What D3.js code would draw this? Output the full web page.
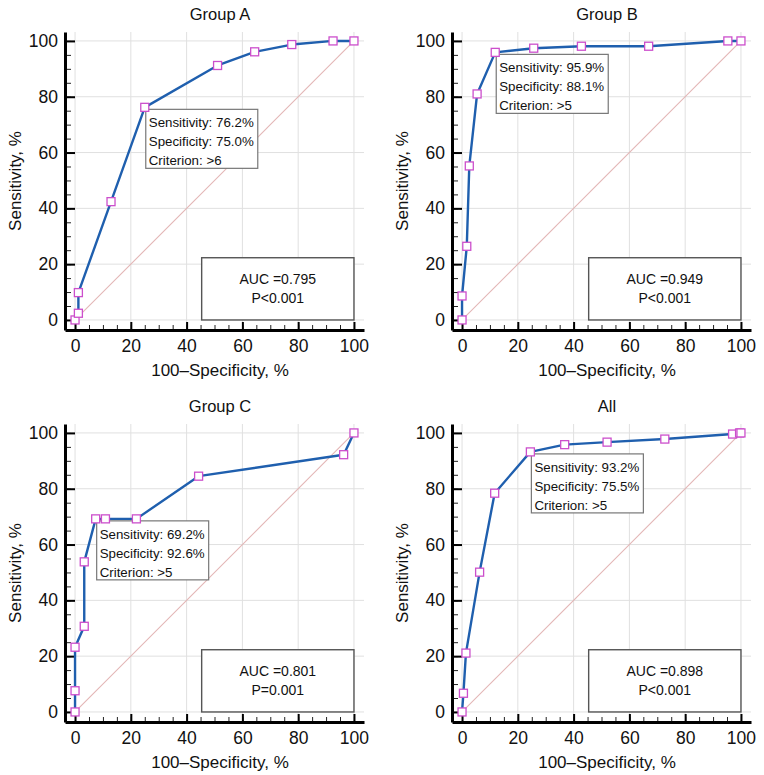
<!DOCTYPE html>
<html><head><meta charset="utf-8">
<script src="https://cdn.jsdelivr.net/npm/d3@7"></script>
<style>
body{margin:0;background:#fff}
text{font-family:"Liberation Sans",Arial,Helvetica,sans-serif;fill:#111}
</style>
</head><body>
<svg id="chart" width="764" height="775"></svg>
<script>
// ---- data ----
const panelTitles = ["Group A", "Group B", "Group C", "All"];
const groupA_fpr  = [0, 1.2, 1.2, 12.9, 25.0, 51.1, 64.4, 77.7, 92.5, 100];
const groupA_sens = [0, 2.4, 9.8, 42.4, 76.2, 91.2, 96.1, 98.7, 100, 100];
const groupB_fpr  = [0, 0, 1.7, 2.6, 5.4, 11.9, 25.7, 42.8, 66.9, 95.3, 100];
const groupB_sens = [0, 8.6, 26.4, 55.2, 81.0, 95.9, 97.4, 98.1, 98.1, 100, 100];
const groupC_fpr  = [0, 0, 0, 3.3, 3.3, 7.4, 10.9, 22.0, 44.3, 96.3, 100];
const groupC_sens = [0, 7.6, 23.2, 30.7, 53.8, 69.2, 69.2, 69.2, 84.5, 92.2, 100];
const all_fpr     = [0, 0.5, 1.4, 6.3, 11.7, 24.5, 36.8, 52.0, 72.7, 97.0, 99.5, 100];
const all_sens    = [0, 6.7, 21.1, 50.1, 78.4, 93.2, 95.8, 96.7, 97.8, 99.6, 100, 100];
const optimalIndex = [4, 5, 5, 5];
const sensitivityText = ["76.2%", "95.9%", "69.2%", "93.2%"];
const specificityText = ["75.0%", "88.1%", "92.6%", "75.5%"];
const criterionText   = [">6", ">5", ">5", ">5"];
const aucText = ["0.795", "0.949", "0.801", "0.898"];
const pText   = ["P<0.001", "P<0.001", "P=0.001", "P<0.001"];
const majorTicks = [0, 20, 40, 60, 80, 100];
const minorTicks = d3.range(0, 101, 5);

const fprs = [groupA_fpr, groupB_fpr, groupC_fpr, all_fpr];
const senss = [groupA_sens, groupB_sens, groupC_sens, all_sens];

// ---- layout ----
const offsets = [[0, 0], [387, 0], [0, 392], [387, 392]];
const svg = d3.select("#chart");
const font = '"Liberation Sans",Arial,Helvetica,sans-serif';

offsets.forEach(([ox, oy], p) => {
  const x = d3.scaleLinear().domain([-3.6, 103.6]).range([65 + ox, 364 + ox]);
  const y = d3.scaleLinear().domain([-3.6, 103.2]).range([330 + oy, 32 + oy]);
  const g = svg.append("g");

  // grid
  g.selectAll("line.vg").data(majorTicks).join("line").attr("class", "vg")
    .attr("x1", d => x(d)).attr("x2", d => x(d))
    .attr("y1", y(103.2)).attr("y2", y(-3.6))
    .attr("stroke", "#e0e0e0").attr("stroke-width", 1);
  g.selectAll("line.hg").data(majorTicks).join("line").attr("class", "hg")
    .attr("y1", d => y(d)).attr("y2", d => y(d))
    .attr("x1", x(-3.6)).attr("x2", x(103.6))
    .attr("stroke", "#e0e0e0").attr("stroke-width", 1);

  // diagonal
  g.append("line")
    .attr("x1", x(0)).attr("y1", y(0)).attr("x2", x(100)).attr("y2", y(100))
    .attr("stroke", "#e3b6b6").attr("stroke-width", 1.1);

  // axes: minor ticks
  const minorX = d3.axisBottom(x).tickValues(minorTicks).tickSizeInner(-5).tickSizeOuter(0).tickFormat("");
  const minorY = d3.axisLeft(y).tickValues(minorTicks).tickSizeInner(-6).tickSizeOuter(0).tickFormat("");
  const gx0 = g.append("g").attr("transform", `translate(0,${330 + oy})`).call(minorX);
  const gy0 = g.append("g").attr("transform", `translate(${65 + ox},0)`).call(minorY);
  [gx0, gy0].forEach(a => { a.select(".domain").remove(); a.selectAll(".tick line").attr("stroke", "#222").attr("stroke-width", 1); });

  // major ticks & labels
  const ax = d3.axisBottom(x).tickValues(majorTicks).tickSizeInner(-8).tickSizeOuter(0).tickPadding(10);
  const ay = d3.axisLeft(y).tickValues(majorTicks).tickSizeInner(-10).tickSizeOuter(0).tickPadding(7);
  const gx = g.append("g").attr("transform", `translate(0,${330 + oy})`).call(ax);
  const gy = g.append("g").attr("transform", `translate(${65 + ox},0)`).call(ay);
  [gx, gy].forEach(a => {
    a.select(".domain").attr("stroke", "#000").attr("stroke-width", 3);
    a.selectAll(".tick line").attr("stroke", "#000").attr("stroke-width", 2);
    a.selectAll(".tick text").attr("font-family", font).attr("font-size", 17.5).attr("fill", "#111");
  });

  // AUC box
  const bx0 = x(45.4), bx1 = x(100), by0 = y(22.3), by1 = y(0);
  g.append("rect").attr("x", bx0).attr("y", by0).attr("width", bx1 - bx0).attr("height", by1 - by0)
    .attr("fill", "#fff").attr("stroke", "#555").attr("stroke-width", 1.4);
  g.append("text").attr("x", (bx0 + bx1) / 2).attr("y", by0 + 26.6).attr("text-anchor", "middle")
    .attr("font-size", 14).text("AUC =" + aucText[p]);
  g.append("text").attr("x", (bx0 + bx1) / 2).attr("y", by0 + 45.6).attr("text-anchor", "middle")
    .attr("font-size", 14).text(pText[p]);

  // ROC line
  const pts = fprs[p].map((f, i) => [f, senss[p][i]]);
  g.append("path").datum(pts)
    .attr("d", d3.line().x(d => x(d[0])).y(d => y(d[1])))
    .attr("fill", "none").attr("stroke", "#1f5fae").attr("stroke-width", 2.4).attr("stroke-linejoin", "round");

  // annotation box
  const op = pts[optimalIndex[p]];
  const ax0 = x(op[0]) + 1, ay0 = y(op[1]) + 2;
  g.append("rect").attr("x", ax0).attr("y", ay0).attr("width", 112).attr("height", 59)
    .attr("fill", "#fff").attr("stroke", "#777").attr("stroke-width", 1.2);
  const lines = ["Sensitivity: " + sensitivityText[p], "Specificity: " + specificityText[p], "Criterion: " + criterionText[p]];
  lines.forEach((t, i) => {
    g.append("text").attr("x", ax0 + 3).attr("y", ay0 + 17.7 + i * 19)
      .attr("font-size", 13.3).text(t);
  });

  // markers
  g.selectAll("rect.m").data(pts).join("rect").attr("class", "m")
    .attr("x", d => x(d[0]) - 4).attr("y", d => y(d[1]) - 4)
    .attr("width", 8).attr("height", 8)
    .attr("fill", "#fff").attr("stroke", "#cc4fcc").attr("stroke-width", 1.3);

  // titles
  g.append("text").attr("x", ox + 220).attr("y", oy + 20).attr("text-anchor", "middle")
    .attr("font-size", 16.5).text(panelTitles[p]);
  g.append("text").attr("x", ox + 220).attr("y", oy + 376).attr("text-anchor", "middle")
    .attr("font-size", 17).text("100\u2013Specificity, %");
  g.append("text").attr("transform", `translate(${ox + 21},${(32 + 330) / 2 + oy}) rotate(-90)`)
    .attr("text-anchor", "middle").attr("font-size", 17).text("Sensitivity, %");
});
</script>
</body></html>
